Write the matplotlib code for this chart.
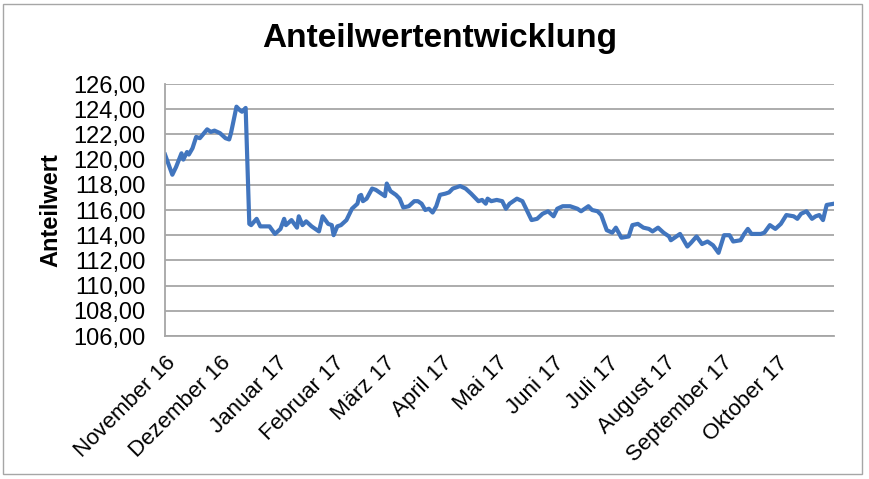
import matplotlib
matplotlib.use("Agg")
import matplotlib.pyplot as plt
import matplotlib.dates as mdates
from matplotlib.patches import Rectangle
import pandas as pd

# ---- data ----
start_date = "2016-11-01"
day_offsets = [0, 4, 6, 9, 10, 12, 13, 15, 17, 19, 23, 25, 27, 30, 33, 35, 36, 39, 41, 42, 44,
               46, 47, 50, 52, 57, 60, 63, 65, 66, 69, 72, 73, 75, 77, 80, 84, 86, 89, 91, 92,
               94, 96, 99, 102, 105, 106, 107, 108, 110, 113, 115, 118, 120, 121, 123, 126, 128,
               130, 133, 136, 138, 140, 142, 144, 146, 148, 150, 153, 155, 157, 161, 164, 167,
               171, 173, 175, 176, 178, 181, 184, 186, 188, 192, 195, 197, 200, 203, 206, 209,
               212, 214, 217, 221, 225, 227, 231, 233, 236, 238, 241, 244, 246, 249, 253, 255,
               258, 261, 264, 266, 269, 272, 275, 276, 281, 285, 287, 290, 293, 296, 299, 302,
               305, 308, 310, 314, 316, 318, 320, 325, 327, 330, 333, 336, 339, 343, 345, 347,
               350, 353, 355, 357, 359, 361, 365]
values = [120.4, 118.8, 119.4, 120.5, 120.0, 120.6, 120.4, 120.9, 121.8, 121.7, 122.4, 122.2,
          122.3, 122.1, 121.7, 121.6, 122.1, 124.2, 123.9, 123.8, 124.1,
          114.9, 114.8, 115.3, 114.7, 114.7, 114.1, 114.5, 115.3, 114.8, 115.2, 114.6, 115.5,
          114.8, 115.1, 114.7, 114.3, 115.5, 114.9, 114.8, 114.0,
          114.7, 114.8, 115.2, 116.1, 116.5, 117.1, 117.2, 116.7, 116.9, 117.7, 117.6, 117.3,
          117.1, 118.1, 117.5, 117.2, 116.9,
          116.2, 116.3, 116.7, 116.7, 116.5, 116.0, 116.1, 115.8, 116.3, 117.2, 117.3, 117.4,
          117.7, 117.9, 117.7, 117.3,
          116.7, 116.8, 116.5, 116.9, 116.7, 116.8, 116.7, 116.1, 116.5, 116.9, 116.7, 116.1,
          115.2, 115.3, 115.7, 115.9,
          115.5, 116.1, 116.3, 116.3, 116.1, 115.9, 116.3, 116.0, 115.9, 115.6, 114.4, 114.2,
          114.6, 113.8, 113.9, 114.8,
          114.9, 114.6, 114.5, 114.3, 114.6, 114.2, 113.9, 113.6, 114.1, 113.1, 113.4, 113.9,
          113.3, 113.5, 113.2, 112.6,
          114.0, 114.0, 113.5, 113.6, 114.1, 114.5, 114.1, 114.1, 114.2, 114.8, 114.5, 114.9,
          115.6, 115.5, 115.3, 115.7,
          115.9, 115.3, 115.5, 115.6, 115.2, 116.4, 116.5]
month_labels = ["November 16", "Dezember 16", "Januar 17", "Februar 17", "März 17", "April 17",
                "Mai 17", "Juni 17", "Juli 17", "August 17", "September 17", "Oktober 17"]
y_ticks = [106, 108, 110, 112, 114, 116, 118, 120, 122, 124, 126]

dates = pd.Timestamp(start_date) + pd.to_timedelta(day_offsets, unit="D")
month_ticks = pd.date_range(start_date, periods=len(month_labels), freq="MS")

plt.rcParams["font.family"] = ["Liberation Sans", "DejaVu Sans"]

fig = plt.figure(figsize=(8.70, 4.79), dpi=100)
fig.patch.set_facecolor("white")
# outer chart border
fig.add_artist(Rectangle((3 / 870, 5 / 479), 859 / 870, 470 / 479, transform=fig.transFigure,
                         fill=False, edgecolor="#A6A6A6", linewidth=1.0))

ax = fig.add_axes([165 / 870, 1 - 336 / 479, (834 - 165) / 870, (336 - 84) / 479])
ax.plot(dates, values, color="#4175BE", linewidth=3.0, solid_joinstyle="round")

ax.set_ylim(106, 126)
ax.set_yticks(y_ticks)
ax.set_yticklabels([f"{v:.2f}".replace(".", ",") for v in y_ticks], fontsize=17)
ax.set_xlim(pd.Timestamp(start_date), pd.Timestamp("2017-11-01"))
ax.set_xticks(month_ticks)
ax.set_xticklabels(month_labels, rotation=45, ha="right", rotation_mode="anchor", fontsize=16)

ax.grid(axis="y", color="#A6A6A6", linewidth=1.3)
ax.set_axisbelow(True)
for s in ["top", "right"]:
    ax.spines[s].set_visible(False)
ax.spines["left"].set_color("#A6A6A6")
ax.spines["bottom"].set_color("#A6A6A6")
ax.spines["left"].set_linewidth(1.3)
ax.spines["bottom"].set_linewidth(1.3)
ax.tick_params(axis="y", length=0, pad=14)
ax.tick_params(axis="x", length=0, pad=12)

ax.set_ylabel("Anteilwert", fontsize=17, fontweight="bold", labelpad=8)
fig.text(0.505, 1 - 38 / 479, "Anteilwertentwicklung", ha="center", va="center",
         fontsize=24, fontweight="bold")

fig.savefig("out.png", dpi=100, facecolor="white")
